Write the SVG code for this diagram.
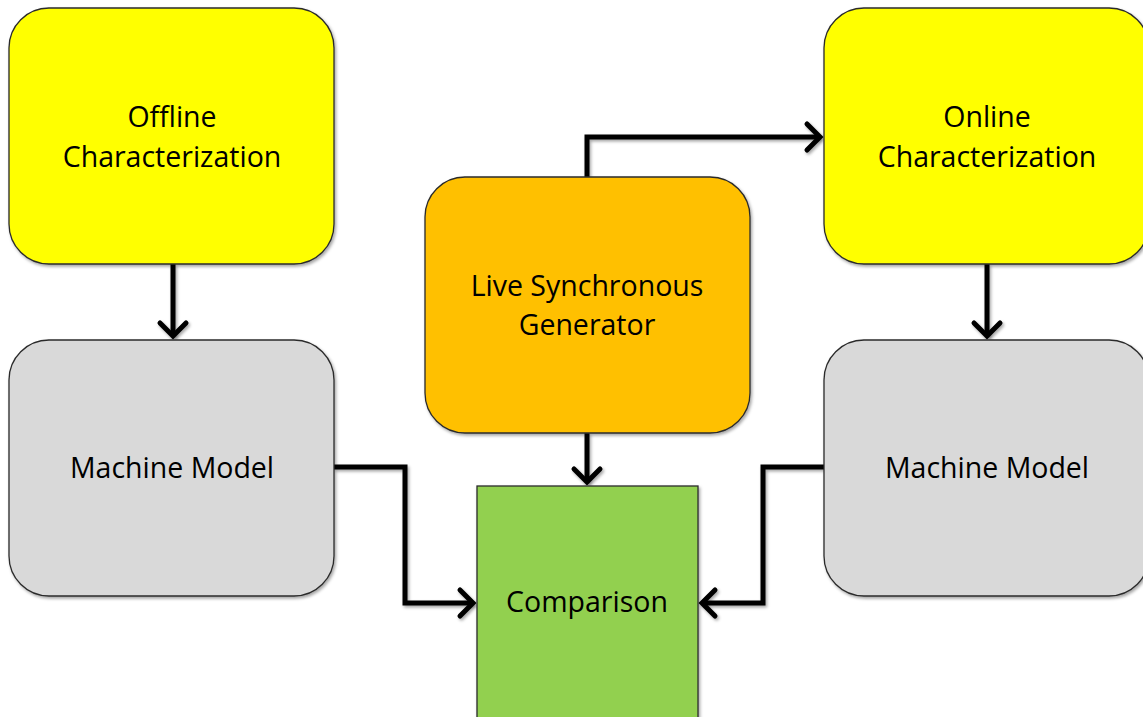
<svg xmlns="http://www.w3.org/2000/svg" width="1143" height="717" viewBox="0 0 1143 717">
  <defs>
    <filter id="shadow" filterUnits="userSpaceOnUse" x="0" y="0" width="1143" height="717">
      <feDropShadow dx="1.5" dy="2" stdDeviation="1.5" flood-color="#000" flood-opacity="0.35"/>
    </filter>
    <style>
      .box { stroke: #2b2b2b; stroke-width: 1.3; filter: url(#shadow); }
      .yellow { fill: #ffff00; }
      .grey { fill: #d9d9d9; }
      .orange { fill: #ffc000; }
      .green { fill: #92d050; }
      .label { font-family: "Open Sans", "Liberation Sans", sans-serif; font-size: 28.5px; fill: #000; text-anchor: middle; }
      .conn { fill: none; stroke: #000; stroke-width: 5; stroke-linejoin: miter; filter: url(#shadow); }
      .head { fill: none; stroke: #000; stroke-width: 5; stroke-linecap: round; stroke-linejoin: miter; filter: url(#shadow); }
    </style>
  </defs>

  <g id="connectors">
    <!-- Offline characterization to left machine model -->
    <path class="conn" d="M173,264 V336"/>
    <path class="head" d="M160,323 L173,336 L186,323"/>
    <!-- Generator to online characterization -->
    <path class="conn" d="M587,177 V137 H820"/>
    <path class="head" d="M807,124 L820,137 L807,150"/>
    <!-- Generator to comparison -->
    <path class="conn" d="M587,433 V482"/>
    <path class="head" d="M574,469 L587,482 L600,469"/>
    <!-- Online characterization to right machine model -->
    <path class="conn" d="M987,264 V336"/>
    <path class="head" d="M974,323 L987,336 L1000,323"/>
    <!-- Left machine model to comparison -->
    <path class="conn" d="M334,467 H405 V603 H473"/>
    <path class="head" d="M460,590 L473,603 L460,616"/>
    <!-- Right machine model to comparison -->
    <path class="conn" d="M824,467 H763 V603 H702"/>
    <path class="head" d="M715,590 L702,603 L715,616"/>
  </g>

  <g id="offline">
    <rect class="box yellow" x="9" y="8" width="325" height="256" rx="40" ry="40"/>
    <text class="label" x="172" y="127">Offline</text>
    <text class="label" x="172" y="167">Characterization</text>
  </g>

  <g id="online">
    <rect class="box yellow" x="824" y="8" width="325" height="256" rx="40" ry="40"/>
    <text class="label" x="987" y="127">Online</text>
    <text class="label" x="987" y="167">Characterization</text>
  </g>

  <g id="machine-left">
    <rect class="box grey" x="9" y="340" width="325" height="256" rx="40" ry="40"/>
    <text class="label" x="172" y="478">Machine Model</text>
  </g>

  <g id="machine-right">
    <rect class="box grey" x="824" y="340" width="325" height="256" rx="40" ry="40"/>
    <text class="label" x="987" y="478">Machine Model</text>
  </g>

  <g id="generator">
    <rect class="box orange" x="425" y="177" width="325" height="256" rx="40" ry="40"/>
    <text class="label" x="587" y="296">Live Synchronous</text>
    <text class="label" x="587" y="335">Generator</text>
  </g>

  <g id="comparison">
    <rect class="box green" x="477" y="486" width="221" height="240"/>
    <text class="label" x="587" y="612">Comparison</text>
  </g>
</svg>
